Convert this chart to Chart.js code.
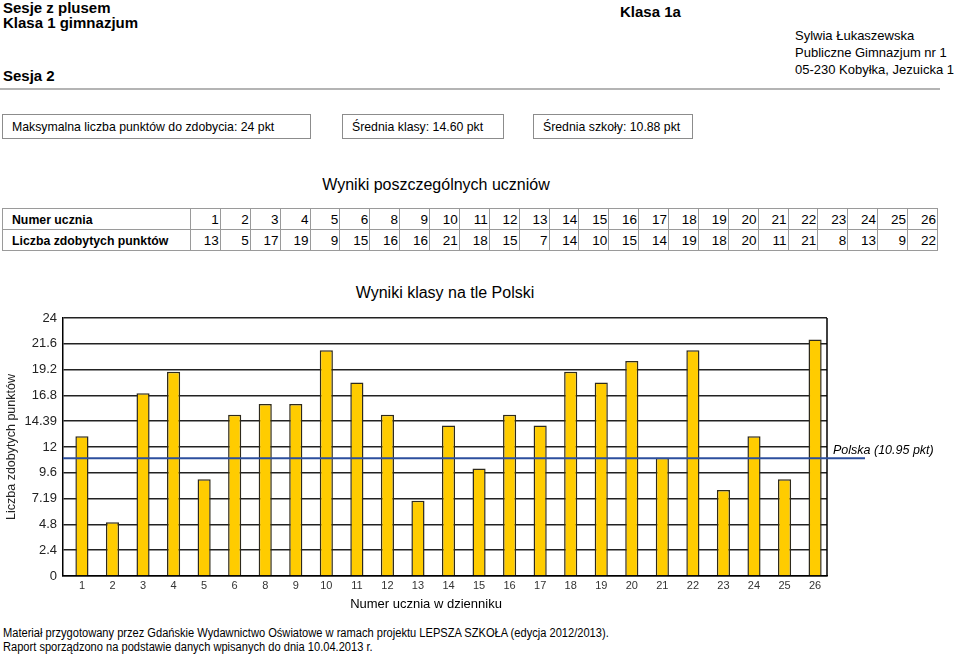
<!DOCTYPE html>
<html lang="pl">
<head>
<meta charset="utf-8">
<title>Wyniki klasy na tle Polski</title>
<script src="https://cdn.jsdelivr.net/npm/chart.js@4.4.1/dist/chart.umd.min.js"></script>
<style>
  body { margin: 0; width: 960px; height: 655px; position: relative; overflow: hidden; background: #fff;
         font-family: "Liberation Sans", Arial, sans-serif; color: #000; }
  .abs { position: absolute; white-space: nowrap; }
  .sq { display: inline-block; transform-origin: left center; }
  .hb { font-weight: bold; font-size: 15px; line-height: 15px; }
  .addr { font-size: 13px; line-height: 17px; }
  .rule { left: 0; top: 88px; width: 940px; height: 2px; background: #b4b4b4; }
  .box { top: 114px; height: 25px; box-sizing: border-box; border: 1px solid #8c8c8c; font-size: 13.5px; line-height: 23px; padding-left: 9px; }
  .box .sq { transform: scaleX(0.91); }
  .ttl { font-size: 16px; line-height: 18px; transform: translateX(-50%); }
  table { position: absolute; left: 2px; top: 208px; width: 936px; border-collapse: collapse; table-layout: fixed; font-size: 13.5px; }
  td { border: 1px solid #9a9a9a; height: 20px; padding: 0 1px 0 0; text-align: right; white-space: nowrap; }
  td.head { text-align: left; font-weight: bold; padding-left: 9px; }
  td.head .sq { transform: scaleX(0.91); }
  #chartWrap { position: absolute; left: 0; top: 278px; width: 960px; height: 335px; }
  .foot { left: 3px; font-size: 12px; line-height: 14px; }
  .foot .sq { transform: scaleX(0.925); }
</style>
</head>
<body>

<div class="abs hb" style="left:3px; top:0px;">Sesje z plusem</div>
<div class="abs hb" style="left:3px; top:15px;">Klasa 1 gimnazjum</div>
<div class="abs hb" style="left:3px; top:68px;">Sesja 2</div>
<div class="abs hb" style="left:620px; top:4px;">Klasa 1a</div>
<div class="abs addr" style="left:795px; top:27px;">Sylwia Łukaszewska<br>Publiczne Gimnazjum nr 1<br>05-230 Kobyłka, Jezuicka 1</div>
<div class="abs rule"></div>

<div class="abs box" style="left:2px; width:309px;"><span class="sq">Maksymalna liczba punktów do zdobycia: 24 pkt</span></div>
<div class="abs box" style="left:342px; width:162px;"><span class="sq">Średnia klasy: 14.60 pkt</span></div>
<div class="abs box" style="left:533px; width:160px;"><span class="sq">Średnia szkoły: 10.88 pkt</span></div>

<div class="abs ttl" style="left:436px; top:176px;">Wyniki poszczególnych uczniów</div>
<table id="scoreTable"></table>

<div class="abs ttl" style="left:445px; top:284px;">Wyniki klasy na tle Polski</div>
<div id="chartWrap"><canvas id="classChart" width="960" height="335"></canvas></div>
<div class="abs" style="left:426px; top:596px; font-size:13px; line-height:15px; transform:translateX(-50%);">Numer ucznia w dzienniku</div>

<div class="abs foot" style="top:626px;"><span class="sq">Materiał przygotowany przez Gdańskie Wydawnictwo Oświatowe w ramach projektu LEPSZA SZKOŁA (edycja 2012/2013).</span></div>
<div class="abs foot" style="top:640px;"><span class="sq">Raport sporządzono na podstawie danych wpisanych do dnia 10.04.2013 r.</span></div>

<script>
// numery uczniow i ich punkty (uczen nr 7 nie ma wyniku)
const studentNumbers = ["1", "2", "3", "4", "5", "6", "8", "9", "10", "11", "12", "13", "14", "15", "16", "17", "18", "19", "20", "21", "22", "23", "24", "25", "26"];
const studentPoints = [13, 5, 17, 19, 9, 15, 16, 16, 21, 18, 15, 7, 14, 10, 15, 14, 19, 18, 20, 11, 21, 8, 13, 9, 22];

const yTicks = [0, 2.4, 4.8, 7.2, 9.6, 12, 14.4, 16.8, 19.2, 21.6, 24];
const yTickLabels = ["0", "2.4", "4.8", "7.19", "9.6", "12", "14.39", "16.8", "19.2", "21.6", "24"];

const polskaAvg = 10.95;
const polskaLabel = "Polska (10.95 pkt)";

// tabela wynikow
const table = document.getElementById("scoreTable");
let html = '<colgroup><col style="width:188px">' + studentNumbers.map(() => '<col>').join('') + '</colgroup>';
html += '<tr><td class="head"><span class="sq">Numer ucznia</span></td>' + studentNumbers.map(n => '<td>' + n + '</td>').join('') + '</tr>';
html += '<tr><td class="head"><span class="sq">Liczba zdobytych punktów</span></td>' + studentPoints.map(p => '<td>' + p + '</td>').join('') + '</tr>';
table.innerHTML = html;

Chart.defaults.font.family = '"Liberation Sans", Arial, sans-serif';

// prawa krawedz ramki wykresu
const frameRight = {
  id: "frameRight",
  beforeDatasetsDraw(chart) {
    const { ctx, chartArea } = chart;
    ctx.save();
    ctx.strokeStyle = "#000";
    ctx.lineWidth = 1.5;
    ctx.beginPath();
    ctx.moveTo(chartArea.right, chartArea.top);
    ctx.lineTo(chartArea.right, chartArea.bottom);
    ctx.stroke();
    ctx.restore();
  }
};

// linia sredniej krajowej
const polskaLine = {
  id: "polskaLine",
  afterDatasetsDraw(chart) {
    const { ctx, chartArea, scales } = chart;
    const y = scales.y.getPixelForValue(polskaAvg);
    ctx.save();
    ctx.strokeStyle = "#2c4f9e";
    ctx.lineWidth = 2;
    ctx.beginPath();
    ctx.moveTo(chartArea.left, y);
    ctx.lineTo(chartArea.right + 38, y);
    ctx.stroke();
    ctx.font = 'italic 12.5px "Liberation Sans", Arial, sans-serif';
    ctx.fillStyle = "#000";
    ctx.fillText(polskaLabel, chartArea.right + 6, y - 4);
    ctx.restore();
  }
};

const ctx = document.getElementById("classChart").getContext("2d");

new Chart(ctx, {
  type: "bar",
  data: {
    datasets: [{
      label: "Liczba zdobytych punktów",
      data: studentPoints.map((p, i) => ({ x: i, y: p })),
      backgroundColor: "#FFCC00",
      borderColor: "#2e2a1c",
      borderWidth: 1.5,
      barPercentage: 0.43,
      categoryPercentage: 1
    }]
  },
  options: {
    responsive: false,
    animation: false,
    devicePixelRatio: 1,
    layout: { padding: { top: 40, right: 133, bottom: 1, left: 0 } },
    plugins: {
      legend: { display: false },
      tooltip: { enabled: false }
    },
    scales: {
      x: {
        type: "linear",
        offset: false,
        min: -0.62,
        max: 24.39,
        afterBuildTicks: scale => { scale.ticks = studentNumbers.map((n, i) => ({ value: i })); },
        afterFit: scale => { scale.height = 36; },
        grid: { display: false, drawTicks: false, offset: false },
        border: { display: true, color: "#000", width: 1.5 },
        ticks: {
          autoSkip: false,
          maxRotation: 0,
          padding: 3,
          color: "#333",
          font: { size: 11 },
          callback: (value, index) => studentNumbers[index]
        }
      },
      y: {
        min: 0,
        max: 24,
        afterBuildTicks: scale => { scale.ticks = yTicks.map(v => ({ value: v })); },
        afterFit: scale => { scale.width = 63; },
        grid: { color: "#222", lineWidth: 1.5, drawTicks: false },
        border: { display: true, color: "#000", width: 1.5 },
        ticks: {
          padding: 6,
          color: "#222",
          font: { size: 13 },
          callback: (value, index) => yTickLabels[index]
        },
        title: {
          display: true,
          text: "Liczba zdobytych punktów",
          color: "#222",
          font: { size: 12.5 },
          padding: { top: 4, bottom: 0 }
        }
      }
    }
  },
  plugins: [frameRight, polskaLine]
});
</script>
</body>
</html>
